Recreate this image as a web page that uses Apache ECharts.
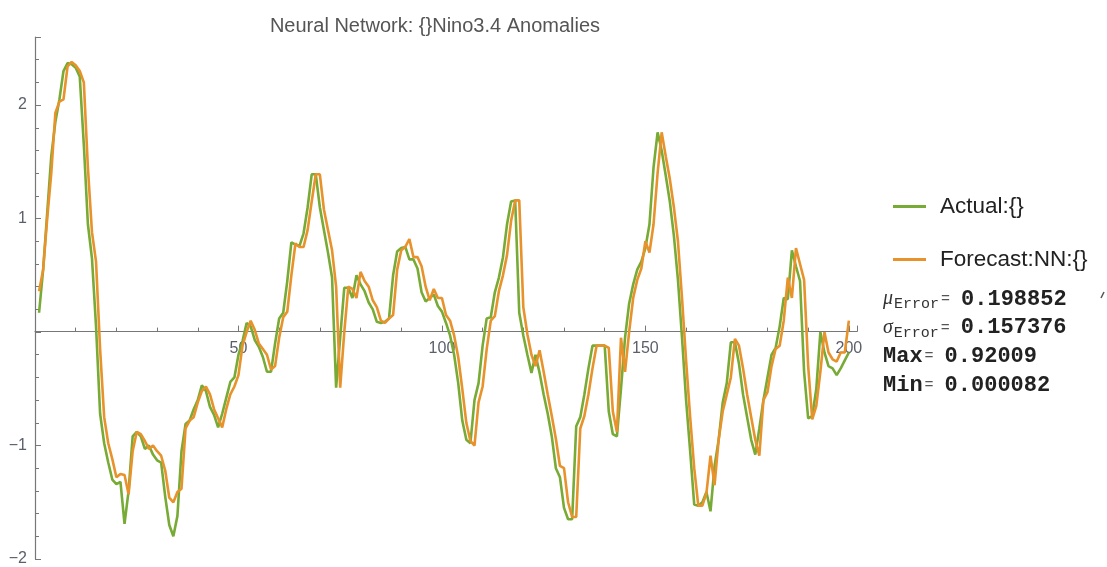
<!DOCTYPE html>
<html>
<head>
<meta charset="utf-8">
<script src="https://cdn.jsdelivr.net/npm/echarts@6/dist/echarts.min.js"></script>
<style>
  html, body { margin: 0; background: #fff; }
  #chart { width: 1107px; height: 567px; }
</style>
</head>
<body>
<div id="chart"></div>
<script>
const title = 'Neural Network: {}Nino3.4 Anomalies'
const seriesNames = ['Actual:{}', 'Forecast:NN:{}']

// values, index 1..200
const actual = [
  0.17, 0.55, 1.05, 1.55, 1.85, 2.05, 2.30, 2.37, 2.36, 2.33,
  2.25, 1.65, 0.95, 0.65, 0.05, -0.72, -0.98, -1.15, -1.30, -1.34,
  -1.32, -1.69, -1.40, -0.92, -0.88, -0.92, -1.03, -1.00, -1.08, -1.13,
  -1.15, -1.45, -1.70, -1.80, -1.62, -1.05, -0.81, -0.78, -0.68, -0.60,
  -0.47, -0.52, -0.66, -0.73, -0.84, -0.72, -0.58, -0.44, -0.40, -0.20,
  -0.08, 0.08, 0.05, -0.07, -0.13, -0.22, -0.35, -0.35, -0.10, 0.12,
  0.17, 0.45, 0.79, 0.77, 0.76, 0.87, 1.10, 1.39, 1.39, 1.10,
  0.90, 0.70, 0.48, -0.49, -0.05, 0.39, 0.39, 0.30, 0.50, 0.42,
  0.36, 0.26, 0.20, 0.09, 0.08, 0.09, 0.12, 0.50, 0.71, 0.74,
  0.75, 0.64, 0.64, 0.56, 0.35, 0.27, 0.30, 0.33, 0.23, 0.18,
  0.08, -0.03, -0.20, -0.45, -0.78, -0.95, -0.98, -0.60, -0.45, -0.12,
  0.12, 0.13, 0.35, 0.48, 0.66, 0.95, 1.15, 1.16, 0.17, -0.03,
  -0.20, -0.36, -0.20, -0.36, -0.55, -0.72, -0.92, -1.20, -1.28, -1.55,
  -1.65, -1.65, -0.83, -0.75, -0.55, -0.32, -0.12, -0.12, -0.12, -0.12,
  -0.70, -0.90, -0.92, -0.50, -0.05, 0.25, 0.42, 0.55, 0.62, 0.74,
  0.95, 1.45, 1.76, 1.60, 1.38, 1.15, 0.85, 0.46, -0.05, -0.60,
  -1.05, -1.52, -1.53, -1.50, -1.41, -1.58, -1.18, -0.95, -0.62, -0.45,
  -0.09, -0.09, -0.28, -0.55, -0.75, -0.95, -1.08, -0.85, -0.60, -0.40,
  -0.20, -0.14, 0.05, 0.30, 0.29, 0.72, 0.58, 0.45, -0.35, -0.76,
  -0.74, -0.50, 0.00, -0.18, -0.30, -0.32, -0.38, -0.32, -0.25, -0.18
]
const forecast = [
  0.36, 0.55, 1.00, 1.40, 1.93, 2.03, 2.05, 2.34, 2.38, 2.35,
  2.30, 2.20, 1.45, 0.88, 0.62, -0.15, -0.75, -0.98, -1.12, -1.28,
  -1.25, -1.26, -1.43, -1.05, -0.88, -0.90, -0.96, -1.03, -1.00, -1.05,
  -1.09, -1.22, -1.46, -1.50, -1.41, -1.38, -0.85, -0.78, -0.75, -0.62,
  -0.52, -0.48, -0.55, -0.68, -0.76, -0.84, -0.68, -0.55, -0.48, -0.38,
  -0.12, 0.00, 0.10, 0.02, -0.10, -0.15, -0.20, -0.33, -0.30, -0.05,
  0.13, 0.18, 0.50, 0.78, 0.75, 0.75, 0.90, 1.15, 1.39, 1.39,
  1.08, 0.90, 0.72, 0.40, -0.49, 0.00, 0.40, 0.38, 0.30, 0.53,
  0.45, 0.40, 0.28, 0.22, 0.10, 0.08, 0.12, 0.15, 0.55, 0.72,
  0.75, 0.82, 0.66, 0.66, 0.58, 0.40, 0.28, 0.38, 0.30, 0.30,
  0.15, 0.10, -0.03, -0.22, -0.50, -0.80, -0.96, -1.00, -0.62, -0.48,
  -0.15, 0.10, 0.14, 0.36, 0.50, 0.68, 0.98, 1.16, 1.16, 0.22,
  -0.02, -0.20, -0.30, -0.16, -0.35, -0.55, -0.74, -0.94, -1.18, -1.20,
  -1.50, -1.63, -1.63, -0.85, -0.74, -0.55, -0.32, -0.12, -0.12, -0.12,
  -0.14, -0.70, -0.88, -0.05, -0.35, 0.00, 0.30, 0.46, 0.56, 0.80,
  0.70, 0.95, 1.40, 1.76, 1.55, 1.35, 1.10, 0.80, 0.30, -0.25,
  -0.75, -1.20, -1.53, -1.53, -1.42, -1.09, -1.35, -0.95, -0.70, -0.55,
  -0.40, -0.06, -0.12, -0.32, -0.55, -0.75, -0.95, -1.09, -0.60, -0.53,
  -0.30, -0.15, -0.12, 0.10, 0.48, 0.30, 0.74, 0.60, 0.46, -0.30,
  -0.77, -0.65, -0.35, 0.00, -0.18, -0.24, -0.26, -0.18, -0.18, 0.10
]
const statLines = [
  ['μ', 'Error', '0.198852'],
  ['σ', 'Error', '0.157376'],
  ['Max', '', '0.92009'],
  ['Min', '', '0.000082']
]

const colors = ['#77ab36', '#e8922b']
const sans = '"Liberation Sans", Arial, sans-serif'
const mono = '"Liberation Mono", "DejaVu Sans Mono", monospace'

const toPairs = arr => arr.map((v, i) => [i + 1, v])

const chart = echarts.init(document.getElementById('chart'))

const statGraphics = statLines.map((l, k) => ({
  type: 'text',
  x: 883,
  y: 299 + k * 28.7,
  style: {
    text: (l[1] ? '{g|' + l[0] + '}{s|' + l[1] + '}' : '{b|' + l[0] + '}') + '{e|=}{b|' + l[2] + '}',
    verticalAlign: 'middle',
    rich: {
      g: { fontFamily: '"Liberation Serif", serif', fontStyle: 'italic', fontSize: 20, fill: '#333', padding: [0, 1, 0, 0] },
      s: { fontFamily: mono, fontSize: 15, fill: '#333', padding: [10, 0, 0, 0] },
      e: { fontFamily: mono, fontSize: 15, fill: '#555', padding: [0, 11, 0, 2] },
      b: { fontFamily: mono, fontSize: 22, fontWeight: 'bold', fill: '#222' }
    }
  }
}))

chart.setOption({
  animation: false,
  color: colors,
  title: {
    text: title,
    left: 430,
    textAlign: 'center',
    top: 11,
    textStyle: { fontFamily: sans, fontSize: 20, fontWeight: 'normal', color: '#555' }
  },
  legend: {
    data: seriesNames,
    orient: 'vertical',
    left: 893,
    top: 195,
    padding: 0,
    itemWidth: 33,
    itemHeight: 3,
    itemGap: 30,
    icon: 'rect',
    textStyle: { fontFamily: sans, fontSize: 22.5, color: '#222', padding: [0, 0, 0, 9] }
  },
  grid: { left: 35, right: 250, top: 37, bottom: 7, containLabel: false },
  xAxis: {
    type: 'value',
    min: 0,
    max: 202,
    interval: 50,
    offset: -227.4,
    axisLine: { onZero: false, lineStyle: { color: '#777', width: 1.2 } },
    axisTick: { inside: true, length: 6, lineStyle: { color: '#777' } },
    minorTick: { show: true, splitNumber: 5, length: 4, lineStyle: { color: '#777' } },
    splitLine: { show: false },
    axisLabel: {
      showMinLabel: false,
      showMaxLabel: false,
      margin: 9,
      fontFamily: sans,
      fontSize: 16,
      color: '#5a5f6a'
    }
  },
  yAxis: {
    type: 'value',
    min: -2,
    max: 2.6,
    interval: 1,
    axisLine: { show: true, onZero: false, lineStyle: { color: '#777', width: 1.2 } },
    axisTick: { inside: true, length: 6, lineStyle: { color: '#777' } },
    minorTick: { show: true, splitNumber: 5, length: 4, lineStyle: { color: '#777' } },
    splitLine: { show: false },
    axisLabel: {
      showMaxLabel: false,
      margin: 8,
      fontFamily: sans,
      fontSize: 16,
      color: '#5a5f6a',
      formatter: v => (v === 0 ? '' : String(v).replace('-', '\u2212'))
    }
  },
  series: [
    {
      name: seriesNames[0],
      type: 'line',
      data: toPairs(actual),
      symbol: 'none',
      lineStyle: { width: 2.6, color: colors[0] }
    },
    {
      name: seriesNames[1],
      type: 'line',
      data: toPairs(forecast),
      symbol: 'none',
      lineStyle: { width: 2.6, color: colors[1] }
    }
  ],
  graphic: statGraphics.concat([{
    type: 'line',
    shape: { x1: 1101, y1: 298, x2: 1104, y2: 292 },
    style: { stroke: '#555', lineWidth: 1.5 }
  }])
})
</script>
</body>
</html>
